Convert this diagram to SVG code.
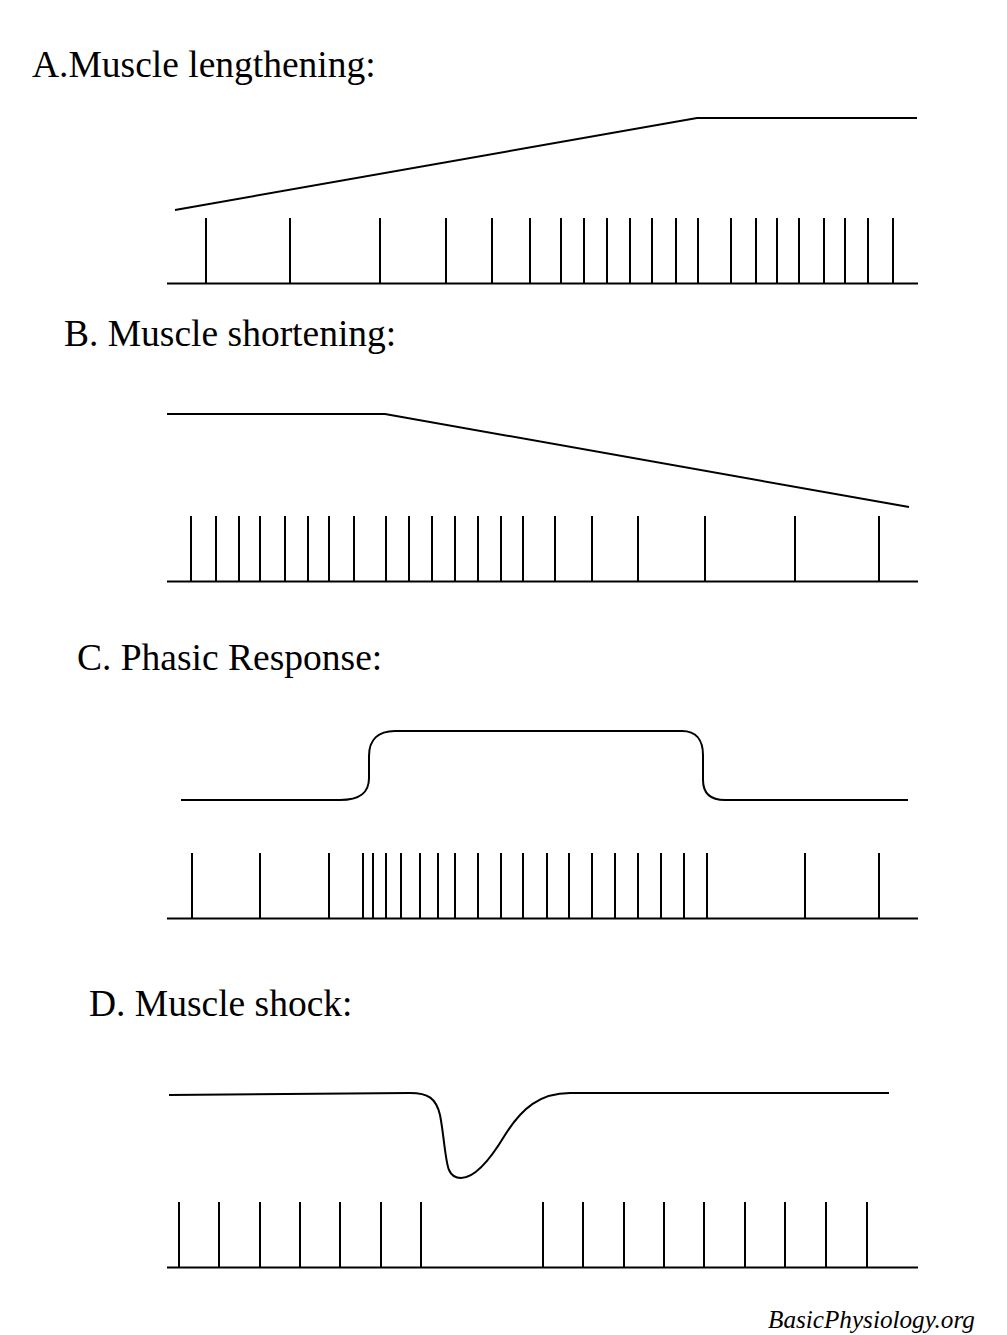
<svg xmlns="http://www.w3.org/2000/svg" width="1007" height="1335" viewBox="0 0 1007 1335">
<style>
.t{font-family:"Liberation Serif","Times New Roman",serif;font-size:37.5px;fill:#000}
.w{font-family:"Liberation Serif","Times New Roman",serif;font-size:25.2px;font-style:italic;fill:#000}
.ln{fill:none;stroke:#000;stroke-width:2}
.sp{stroke:#000;stroke-width:2}
</style>
<rect width="1007" height="1335" fill="#fff"/>
<text class="t" x="32" y="77">A.Muscle lengthening:</text>
<text class="t" x="64" y="346">B. Muscle shortening:</text>
<text class="t" x="77" y="670">C. Phasic Response:</text>
<text class="t" x="89" y="1016">D. Muscle shock:</text>
<text class="w" x="768" y="1328">BasicPhysiology.org</text>
<g id="connectors">
<path class="ln" d="M175,210 L697,118 H917"/>
<path class="ln" d="M167,414 H385 L909,507"/>
<path class="ln" d="M181,800 H340 C360,800 369,793 369,778 V756 C369,740 378,731 395,731 H682 C696,731 703,740 703,755 V780 C703,793 710,800 725,800 H908"/>
<path class="ln" d="M169,1095 L410,1093 C428,1093 436,1098 440,1115 C444,1135 445,1160 449,1170 C452,1177 457,1178 461,1178 C475,1178 490,1160 505,1135 C522,1108 540,1093 570,1093 L889,1093"/>
</g>
<g id="trainA" class="sp">
<line x1="167" y1="283.5" x2="918" y2="283.5"/>
<path class="sp" d="M206,218V283M290,218V283M380,218V283M446,218V283M492,218V283M530,218V283M561,218V283M584,218V283M607,218V283M630,218V283M652,218V283M676,218V283M698,218V283M731,218V283M756,218V283M777,218V283M799,218V283M824,218V283M845,218V283M868,218V283M893,218V283"/>
</g>
<g id="trainB" class="sp">
<line x1="167" y1="581.5" x2="918" y2="581.5"/>
<path class="sp" d="M191,516V581M216,516V581M239,516V581M260,516V581M285,516V581M308,516V581M329,516V581M354,516V581M386,516V581M409,516V581M432,516V581M455,516V581M478,516V581M501,516V581M523,516V581M555,516V581M592,516V581M638,516V581M705,516V581M795,516V581M879,516V581"/>
</g>
<g id="trainC" class="sp">
<line x1="167" y1="918.5" x2="918" y2="918.5"/>
<path class="sp" d="M192,853V918M260,853V918M329,853V918M363,853V918M373,853V918M386,853V918M401,853V918M420,853V918M438,853V918M455,853V918M478,853V918M501,853V918M523,853V918M547,853V918M569,853V918M592,853V918M615,853V918M638,853V918M661,853V918M684,853V918M707,853V918M805,853V918M879,853V918"/>
</g>
<g id="trainD" class="sp">
<line x1="167" y1="1267.5" x2="918" y2="1267.5"/>
<path class="sp" d="M179,1202V1267M219,1202V1267M260,1202V1267M300,1202V1267M340,1202V1267M381,1202V1267M421,1202V1267M543,1202V1267M583,1202V1267M624,1202V1267M664,1202V1267M704,1202V1267M745,1202V1267M785,1202V1267M826,1202V1267M867,1202V1267"/>
</g>
</svg>
